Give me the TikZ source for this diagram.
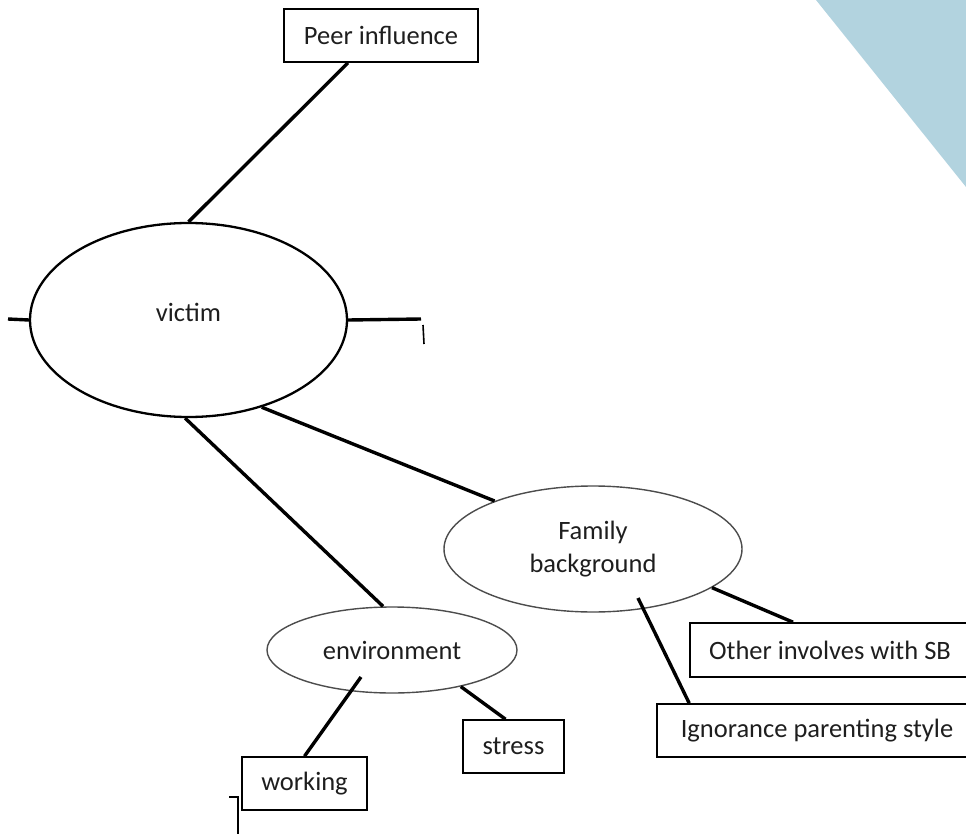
\documentclass[tikz,border=0pt]{standalone}
\usepackage{fontspec}
\setmainfont{Carlito}
\usetikzlibrary{shapes.geometric,calc}
\definecolor{sky}{RGB}{178,211,223}
\definecolor{ink}{RGB}{30,30,30}
\begin{document}
\begin{tikzpicture}[x=1pt,y=-1pt,
  every node/.style={font=\fontsize{26.5}{33}\selectfont, text=ink},
  box/.style={draw, rectangle, line width=1.6pt, inner sep=0pt},
  bigoval/.style={draw, ellipse, line width=2.3pt, inner sep=0pt},
  oval/.style={draw=black!70, ellipse, line width=1.4pt, inner sep=0pt, align=center},
  link/.style={line width=3.4pt},
  thin mark/.style={line width=1.6pt}]
\useasboundingbox (0,0) rectangle (966,834);

% corner wedge
\fill[sky] (816,0) -- (966,0) -- (966,187) -- cycle;

% nodes
\node[box, minimum width=194, minimum height=53] (peer) at (381,35.5) {Peer influence};
\node[bigoval, minimum width=317, minimum height=194] (victim) at (188.5,320) {\raisebox{-1.5pt}[0pt][0pt]{victim}};
\node[oval, minimum width=298, minimum height=126] (family) at (593,549) {Family\\background};
\node[oval, minimum width=250, minimum height=86] (env) at (392,650) {environment};
\node[box, minimum width=280, minimum height=54] (other) at (830,650) {Other involves with SB};
\node[box, minimum width=320, minimum height=53] (ignorance) at (817,730.5) {Ignorance parenting style};
\node[box, minimum width=125, minimum height=53] (working) at (304.5,783.5) {working};
\node[box, minimum width=101, minimum height=53] (stress) at (513.5,746.5) {stress};

% free ends
\coordinate (lstub) at (8,319);
\coordinate (rstub) at (421,319);
\coordinate (ewstart) at (361,677);
\coordinate (fistart) at (638,598);
\coordinate (bk1) at (229,797);
\coordinate (bk2) at (238,797);
\coordinate (bk3) at (238,834);
\coordinate (tk1) at (423,325);
\coordinate (tk2) at (424,344);

% connectors
\draw[link] ($(peer.south)+(-33,0)$) -- (victim.north);
\draw[link] (lstub) -- (victim.west);
\draw[link] (victim.east) -- (rstub);
\draw[link] (victim.-50) -- (family.154);
\draw[link] (victim.-92) -- ($(env.north)+(-9,0)$);
\draw[link] (ewstart) -- (working.north);
\draw[link] (env.-28) -- ($(stress.north)+(-8,0)$);
\draw[link] (family.-18) -- ($(other.north)+(-37,0)$);
\draw[link] (fistart) -- ($(ignorance.north west)+(33,0)$);

% small marks
\draw[thin mark] (bk1) -- (bk2) -- (bk3);
\draw[thin mark] (tk1) -- (tk2);
\end{tikzpicture}
\end{document}
